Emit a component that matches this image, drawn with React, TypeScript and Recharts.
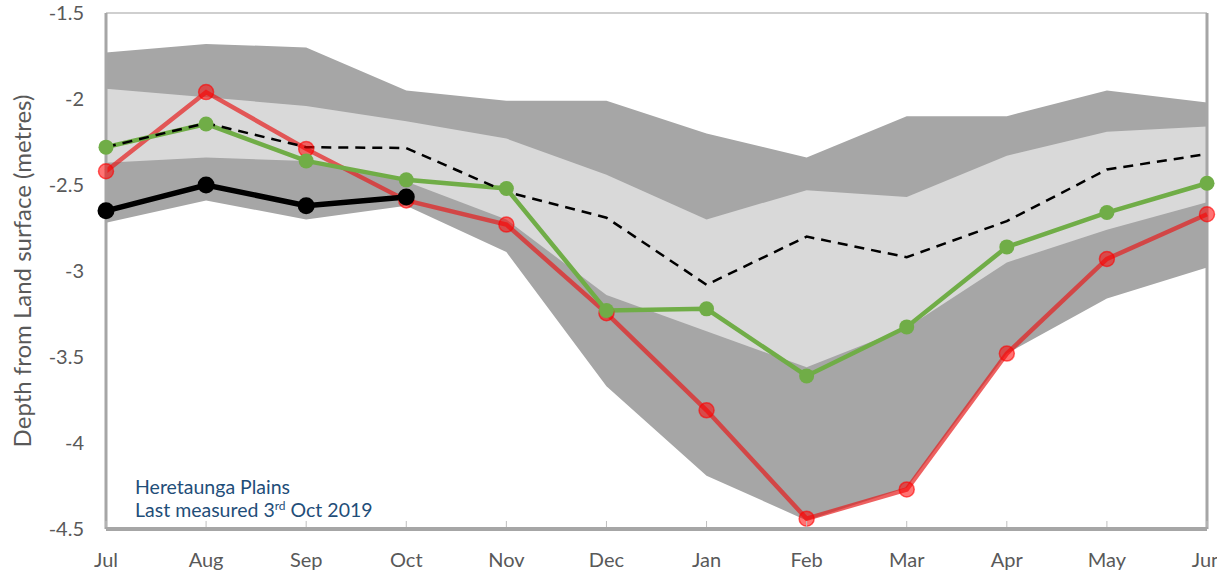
import React from "react";
import {
  ComposedChart,
  Area,
  Line,
  XAxis,
  YAxis,
  ReferenceLine,
} from "recharts";

const months = ["Jul", "Aug", "Sep", "Oct", "Nov", "Dec", "Jan", "Feb", "Mar", "Apr", "May", "Jun"];

// historical range bands
const outerMax = [-1.73, -1.68, -1.7, -1.95, -2.01, -2.01, -2.2, -2.34, -2.1, -2.1, -1.95, -2.02];
const innerMax = [-1.94, -1.99, -2.04, -2.13, -2.23, -2.44, -2.7, -2.53, -2.57, -2.33, -2.19, -2.16];
const innerMin = [-2.37, -2.34, -2.36, -2.48, -2.7, -3.14, -3.35, -3.56, -3.33, -2.95, -2.76, -2.6];
const outerMin = [-2.72, -2.59, -2.7, -2.62, -2.89, -3.67, -4.19, -4.45, -4.26, -3.48, -3.16, -2.98];

const median = [-2.28, -2.14, -2.28, -2.285, -2.54, -2.69, -3.08, -2.8, -2.92, -2.71, -2.41, -2.32];
const lastYear = [-2.28, -2.145, -2.36, -2.47, -2.52, -3.23, -3.22, -3.61, -3.325, -2.86, -2.66, -2.49];
const twoYearsAgo = [-2.42, -1.96, -2.29, -2.59, -2.73, -3.245, -3.81, -4.44, -4.27, -3.48, -2.93, -2.67];
const current: (number | null)[] = [-2.65, -2.5, -2.62, -2.57, null, null, null, null, null, null, null, null];

const yTicks = [-4.5, -4, -3.5, -3, -2.5, -2, -1.5];

const data = months.map((m, i) => ({
  month: m,
  outer: [outerMin[i], outerMax[i]],
  inner: [innerMin[i], innerMax[i]],
  median: median[i],
  lastYear: lastYear[i],
  twoYearsAgo: twoYearsAgo[i],
  current: current[i],
}));

const FONT = "Lato, 'Open Sans', sans-serif";
const AXIS_GREY = "#a6a6a6";

const MonthTick = ({ x, y, payload }: { x?: number; y?: number; payload?: { value: string } }) => (
  <g>
    <line x1={x} x2={x} y1={(y ?? 0) - 2} y2={(y ?? 0) - 8} stroke="#bfbfbf" strokeWidth={1} />
    <text x={x} y={(y ?? 0) + 38} textAnchor="middle" fill="#595959" fontSize={20} fontFamily={FONT}>
      {payload?.value}
    </text>
  </g>
);

const DepthLabel = () => (
  <text
    x={31}
    y={271}
    transform="rotate(-90 31 271)"
    textAnchor="middle"
    fill="#595959"
    fontSize={24}
    fontFamily={FONT}
  >
    Depth from Land surface (metres)
  </text>
);

export default function App() {
  return (
    <div style={{ position: "absolute", left: 0, top: 0, width: 1217, height: 580, background: "#fff" }}>
      <ComposedChart
        width={1217}
        height={580}
        data={data}
        margin={{ top: 13, right: 10, left: 0, bottom: 0 }}
      >
        <XAxis
          dataKey="month"
          height={51}
          interval={0}
          tickSize={0}
          tickMargin={0}
          tickLine={false}
          axisLine={{ stroke: AXIS_GREY, strokeWidth: 4 }}
          tick={<MonthTick />}
        />
        <YAxis
          width={106}
          domain={[-4.5, -1.5]}
          ticks={yTicks}
          allowDataOverflow
          tickSize={0}
          tickMargin={22}
          tickLine={false}
          axisLine={{ stroke: AXIS_GREY, strokeWidth: 3 }}
          tick={{ fill: "#595959", fontSize: 20, fontFamily: FONT }}
          label={<DepthLabel />}
        />

        {/* min/max and inner range */}
        <Area dataKey="outer" fill="#a6a6a6" fillOpacity={1} stroke="none" isAnimationActive={false} />
        <Area dataKey="inner" fill="#d9d9d9" fillOpacity={1} stroke="none" isAnimationActive={false} />

        <ReferenceLine y={-1.5} stroke="#bfbfbf" strokeWidth={1.5} />
        <ReferenceLine x="Jun" stroke={AXIS_GREY} strokeWidth={3} />

        <Line
          dataKey="twoYearsAgo"
          stroke="rgba(230,30,30,0.7)"
          strokeWidth={4.5}
          dot={{ r: 7.5, fill: "rgba(255,0,0,0.55)", stroke: "rgba(255,0,0,0.6)", strokeWidth: 1.5 }}
          isAnimationActive={false}
        />
        <Line
          dataKey="lastYear"
          stroke="#70ad47"
          strokeWidth={4.5}
          dot={{ r: 7.5, fill: "#70ad47", stroke: "none" }}
          isAnimationActive={false}
        />
        <Line
          dataKey="median"
          stroke="#000"
          strokeWidth={2.5}
          strokeDasharray="10 7"
          dot={false}
          isAnimationActive={false}
        />
        <Line
          dataKey="current"
          stroke="#000"
          strokeWidth={5.5}
          dot={{ r: 8.5, fill: "#000", stroke: "none" }}
          isAnimationActive={false}
        />
      </ComposedChart>

      <div
        style={{
          position: "absolute",
          left: 135,
          top: 475,
          fontFamily: FONT,
          fontSize: 19.5,
          lineHeight: "23px",
          color: "#1f4e79",
          whiteSpace: "nowrap",
        }}
      >
        <div>Heretaunga Plains</div>
        <div>
          Last measured 3<sup style={{ fontSize: 12, lineHeight: 0 }}>rd</sup> Oct 2019
        </div>
      </div>
    </div>
  );
}
